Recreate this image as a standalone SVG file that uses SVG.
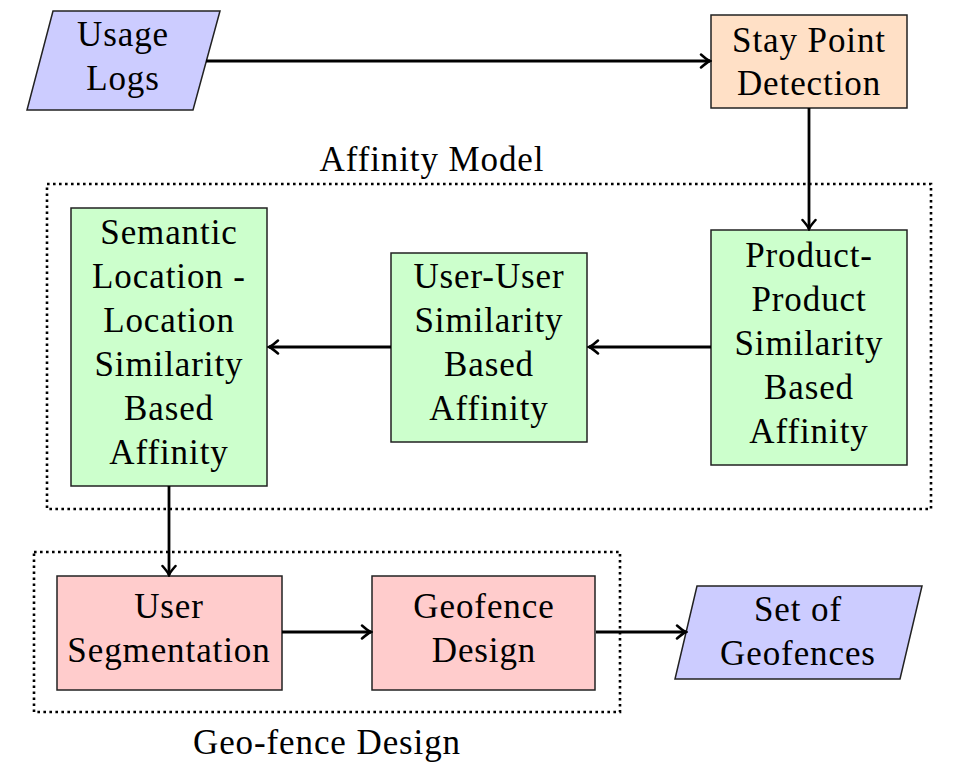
<svg xmlns="http://www.w3.org/2000/svg" width="980" height="763" viewBox="0 0 980 763">
<defs>
<style>
.t{font-family:"Liberation Serif","Times New Roman",serif;font-size:35px;letter-spacing:0.9px;fill:#000;text-anchor:middle}
.box{stroke:#222;stroke-width:1.5}
.io{fill:#ccccff}
.org{fill:#ffe0c6}
.grn{fill:#ccffcc}
.red{fill:#ffcccc}
.dot{fill:none;stroke:#000;stroke-width:2.6;stroke-dasharray:2.6 3.4}
.c{stroke:#000;stroke-width:2.8;fill:none;marker-end:url(#ah)}
</style>
<marker id="ah" markerUnits="userSpaceOnUse" viewBox="-12 -8 14 16" markerWidth="14" markerHeight="16" refX="0" refY="0" orient="auto">
<path d="M -9 -6.5 Q -3 -1.2 0 0 Q -3 1.2 -9 6.5" fill="none" stroke="#000" stroke-width="2.5" stroke-linecap="round"/>
</marker>
</defs>
<rect width="980" height="763" fill="#fff"/>

<g id="affinity-model">
<rect class="dot" x="47" y="184" width="884" height="325"/>
<text class="t" x="432" y="171">Affinity Model</text>
</g>
<g id="geofence-design-group">
<rect class="dot" x="34" y="552" width="586" height="160"/>
<text class="t" x="327" y="754">Geo-fence Design</text>
</g>

<g id="usage-logs">
<polygon class="box io" points="53,11 220,11 193,110 27,110"/>
<text class="t" x="123" y="46">Usage</text>
<text class="t" x="123" y="90">Logs</text>
</g>
<g id="stay-point">
<rect class="box org" x="711" y="15" width="196" height="93"/>
<text class="t" x="809" y="52">Stay Point</text>
<text class="t" x="809" y="95">Detection</text>
</g>
<g id="product-product">
<rect class="box grn" x="711" y="230" width="196" height="235"/>
<text class="t" x="809" y="267">Product-</text>
<text class="t" x="809" y="311">Product</text>
<text class="t" x="809" y="355">Similarity</text>
<text class="t" x="809" y="399">Based</text>
<text class="t" x="809" y="443">Affinity</text>
</g>
<g id="user-user">
<rect class="box grn" x="391" y="253" width="196" height="189"/>
<text class="t" x="489" y="288">User-User</text>
<text class="t" x="489" y="332">Similarity</text>
<text class="t" x="489" y="376">Based</text>
<text class="t" x="489" y="420">Affinity</text>
</g>
<g id="semantic-location">
<rect class="box grn" x="71" y="208" width="196" height="278"/>
<text class="t" x="169" y="244">Semantic</text>
<text class="t" x="169" y="288">Location -</text>
<text class="t" x="169" y="332">Location</text>
<text class="t" x="169" y="376">Similarity</text>
<text class="t" x="169" y="420">Based</text>
<text class="t" x="169" y="464">Affinity</text>
</g>
<g id="user-segmentation">
<rect class="box red" x="57" y="576" width="225" height="114"/>
<text class="t" x="169" y="618">User</text>
<text class="t" x="169" y="662">Segmentation</text>
</g>
<g id="geofence-design">
<rect class="box red" x="372" y="576" width="223" height="114"/>
<text class="t" x="484" y="618">Geofence</text>
<text class="t" x="484" y="662">Design</text>
</g>
<g id="set-of-geofences">
<polygon class="box io" points="697,586 922,586 900,679 675,679"/>
<text class="t" x="798" y="621">Set of</text>
<text class="t" x="798" y="665">Geofences</text>
</g>

<g id="connectors">
<line class="c" x1="206" y1="61" x2="710" y2="61"/>
<line class="c" x1="809" y1="108" x2="809" y2="229"/>
<line class="c" x1="711" y1="347" x2="589" y2="347"/>
<line class="c" x1="391" y1="347" x2="269" y2="347"/>
<line class="c" x1="169" y1="486" x2="169" y2="575"/>
<line class="c" x1="282" y1="632" x2="371" y2="632"/>
<line class="c" x1="596" y1="632" x2="686" y2="632"/>
</g>
</svg>
